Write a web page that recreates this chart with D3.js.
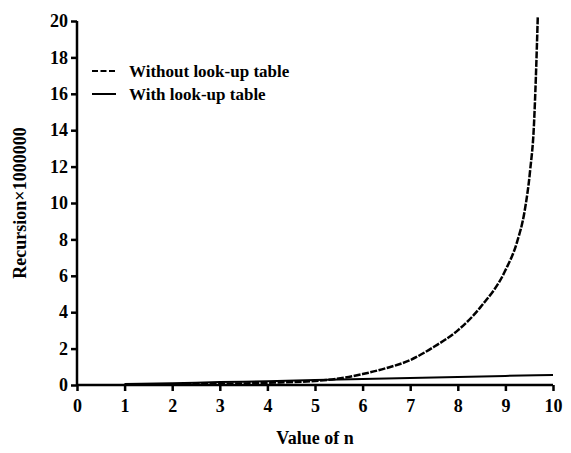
<!DOCTYPE html>
<html>
<head>
<meta charset="utf-8">
<script src="https://cdn.jsdelivr.net/npm/d3@7"></script>
</head>
<body style="margin:0">
<svg width="571" height="453"></svg>
<script>
// values (recursion count / 1000000)
var withoutN = [1, 2, 3, 4, 5, 5.5, 6, 6.5, 7, 7.5, 8, 8.5, 9, 9.25, 9.4, 9.52, 9.6, 9.64, 9.68];
var withoutVals = [0.01, 0.03, 0.06, 0.12, 0.22, 0.36, 0.6, 0.93, 1.37, 2.1, 3.0, 4.35, 6.3, 7.9, 9.5, 11.8, 14.3, 16.9, 20.2];
var withN = [1, 2, 3, 4, 5, 6, 7, 8, 9, 10];
var withVals = [0.05, 0.1, 0.16, 0.21, 0.27, 0.33, 0.38, 0.44, 0.5, 0.55];
var xTicks = [0, 1, 2, 3, 4, 5, 6, 7, 8, 9, 10];
var yTicks = [0, 2, 4, 6, 8, 10, 12, 14, 16, 18, 20];
var legendLabels = ["Without look-up table", "With look-up table"];

var svg = d3.select("svg");

var x = d3.scaleLinear().domain([0, 10]).range([77, 553]);
var y = d3.scaleLinear().domain([0, 20]).range([385, 21]);

var gx = svg.append("g")
  .attr("transform", "translate(0," + y(0) + ")")
  .call(d3.axisBottom(x).tickValues(xTicks).tickSize(6).tickPadding(8));
var gy = svg.append("g")
  .attr("transform", "translate(" + x(0) + ",0)")
  .call(d3.axisLeft(y).tickValues(yTicks).tickSize(6).tickPadding(3));

[gx, gy].forEach(function(g) {
  g.attr("font-family", "Liberation Serif").attr("font-size", 18).attr("font-weight", "bold");
  g.select(".domain").attr("stroke", "#000").attr("stroke-width", 2.5);
  g.selectAll(".tick line").attr("stroke", "#000").attr("stroke-width", 2.5);
  g.selectAll(".tick text").attr("fill", "#000");
});
// axis ends at the last ticks, no outer ends
gx.select(".domain").attr("d", "M" + x(0) + ",0H" + x(10));
gy.select(".domain").attr("d", "M0," + y(20) + "V" + y(0));

var line = d3.line()
  .x(function(d) { return x(d[0]); })
  .y(function(d) { return y(d[1]); })
  .curve(d3.curveMonotoneX);

svg.append("path")
  .datum(d3.zip(withN, withVals))
  .attr("d", line)
  .attr("fill", "none")
  .attr("stroke", "#000")
  .attr("stroke-width", 2);

svg.append("path")
  .datum(d3.zip(withoutN, withoutVals))
  .attr("d", line)
  .attr("fill", "none")
  .attr("stroke", "#000")
  .attr("stroke-width", 2.5)
  .attr("stroke-dasharray", "7,1.5");

// legend
var legend = svg.append("g").attr("transform", "translate(92,71)");
legendLabels.forEach(function(label, i) {
  var row = legend.append("g").attr("transform", "translate(0," + (i * 23) + ")");
  row.append("line")
    .attr("x1", 0).attr("x2", 24)
    .attr("stroke", "#000")
    .attr("stroke-width", 2)
    .attr("stroke-dasharray", i == 0 ? "6,2.5" : null);
  row.append("text")
    .attr("x", 37)
    .attr("y", 6)
    .attr("font-family", "Liberation Serif")
    .attr("font-weight", "bold")
    .attr("font-size", 17)
    .text(label);
});

svg.append("text")
  .attr("x", 315)
  .attr("y", 444)
  .attr("text-anchor", "middle")
  .attr("font-family", "Liberation Serif")
  .attr("font-weight", "bold")
  .attr("font-size", 18)
  .text("Value of n");

svg.append("text")
  .attr("transform", "translate(26,203) rotate(-90)")
  .attr("text-anchor", "middle")
  .attr("font-family", "Liberation Serif")
  .attr("font-weight", "bold")
  .attr("font-size", 18)
  .text("Recursion×1000000");
</script>
</body>
</html>
